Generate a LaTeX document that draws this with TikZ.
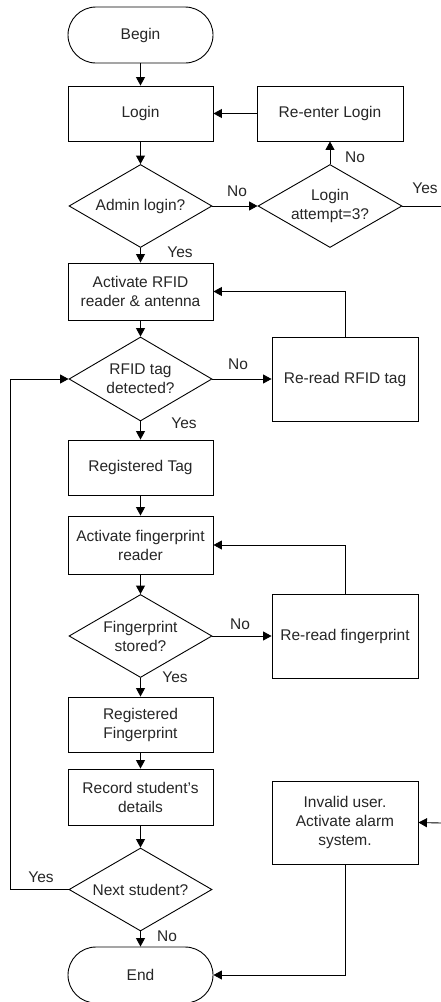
\documentclass[tikz,border=0pt]{standalone}
\usepackage{fontspec}
\setmainfont{Liberation Sans}
\usetikzlibrary{shapes.geometric,arrows.meta}
\tikzset{
  base/.style={draw=black, line width=0.9pt, inner sep=0pt, align=center, text=black!85,
    font=\fontsize{15.5}{19}\selectfont},
  proc/.style={base, rectangle, minimum width=145pt, minimum height=56pt},
  term/.style={base, rectangle, rounded corners=28pt, minimum width=145pt, minimum height=56pt},
  dec/.style={base, diamond, aspect=1.74, minimum width=143pt, minimum height=83pt},
  txt/.style={inner sep=0pt, align=center, text=black!85, font=\fontsize{15.5}{19}\selectfont},
  lbl/.style={inner sep=0pt, text=black!85, font=\fontsize{15.5}{19}\selectfont},
  conn/.style={draw=black, line width=0.9pt, -{Triangle[length=8.5pt,width=9pt]}},
  line/.style={draw=black, line width=0.9pt}
}
\begin{document}
\begin{tikzpicture}[x=1pt, y=-1pt]
\useasboundingbox[fill=white] (0,0) rectangle (440,1002);
% nodes
\node[term] (begin) at (140.5,35) {Begin};
\node[proc, minimum height=55pt] (login) at (140.5,113.5) {Login};
\node[proc, minimum width=146pt, minimum height=55pt] (reenter) at (330,113.5) {Re-enter Login};
\node[dec] (admin) at (140.5,206) {};
\node[txt] at (admin) {Admin login?};
\node[dec, minimum width=144pt] (attempt) at (330,206) {};
\node[txt] at (attempt) {Login\\attempt=3?};
\node[proc, minimum height=57pt] (rfid) at (140.5,291.5) {Activate RFID\\reader \& antenna};
\node[dec, minimum height=84pt] (tag) at (140.5,379) {};
\node[txt] at (tag) {RFID tag\\detected?};
\node[proc, minimum width=146pt, minimum height=84pt] (rereadrfid) at (345,379) {Re-read RFID tag};
\node[proc, minimum height=55pt] (regtag) at (140.5,467.5) {Registered Tag};
\node[proc, minimum height=58pt] (actfp) at (140.5,545) {Activate fingerprint\\reader};
\node[dec] (fp) at (140.5,636) {};
\node[txt] at (fp) {Fingerprint\\stored?};
\node[proc, minimum width=146pt, minimum height=84pt] (rereadfp) at (345,636) {Re-read fingerprint};
\node[proc, minimum height=55pt] (regfp) at (140.5,724.5) {Registered\\Fingerprint};
\node[proc] (record) at (140.5,797) {Record student's\\details};
\node[dec] (next) at (140.5,889.5) {};
\node[txt] at (next) {Next student?};
\node[term] (end) at (140.5,975) {End};
\node[proc, minimum width=146pt, minimum height=83pt] (invalid) at (345,822.5) {Invalid user.\\Activate alarm\\system.};
% free ends at the right edge
\coordinate (yesout) at (441,206);
\coordinate (alarmin) at (441,823);
% connectors
\draw[conn] (begin) -- (login);
\draw[conn] (login) -- (admin);
\draw[conn] (reenter) -- (login);
\draw[conn] (admin) -- (attempt);
\draw[conn] (attempt) -- (reenter);
\draw[line] (attempt.east) -- (yesout);
\draw[conn] (alarmin) -- (invalid.east);
\draw[conn] (admin) -- (rfid);
\draw[conn] (rfid) -- (tag);
\draw[conn] (tag) -- (rereadrfid);
\draw[conn] (rereadrfid.north) |- (rfid.east);
\draw[conn] (tag) -- (regtag);
\draw[conn] (regtag) -- (actfp);
\draw[conn] (actfp) -- (fp);
\draw[conn] (fp) -- (rereadfp);
\draw[conn] (rereadfp.north) |- (actfp.east);
\draw[conn] (fp) -- (regfp);
\draw[conn] (regfp) -- (record);
\draw[conn] (record) -- (next);
\draw[conn] (next) -- (end);
\draw[conn] (next.west) -- (10,889.5) |- (tag.west);
\draw[conn] (invalid.south) |- (end.east);
% labels
\node[lbl] at (237,191) {No};
\node[lbl] at (425,188) {Yes};
\node[lbl] at (355,157) {No};
\node[lbl] at (180,252) {Yes};
\node[lbl] at (238,364) {No};
\node[lbl] at (184,423) {Yes};
\node[lbl] at (240,624) {No};
\node[lbl] at (175,677) {Yes};
\node[lbl] at (41,877) {Yes};
\node[lbl] at (167,936) {No};
\end{tikzpicture}
\end{document}
